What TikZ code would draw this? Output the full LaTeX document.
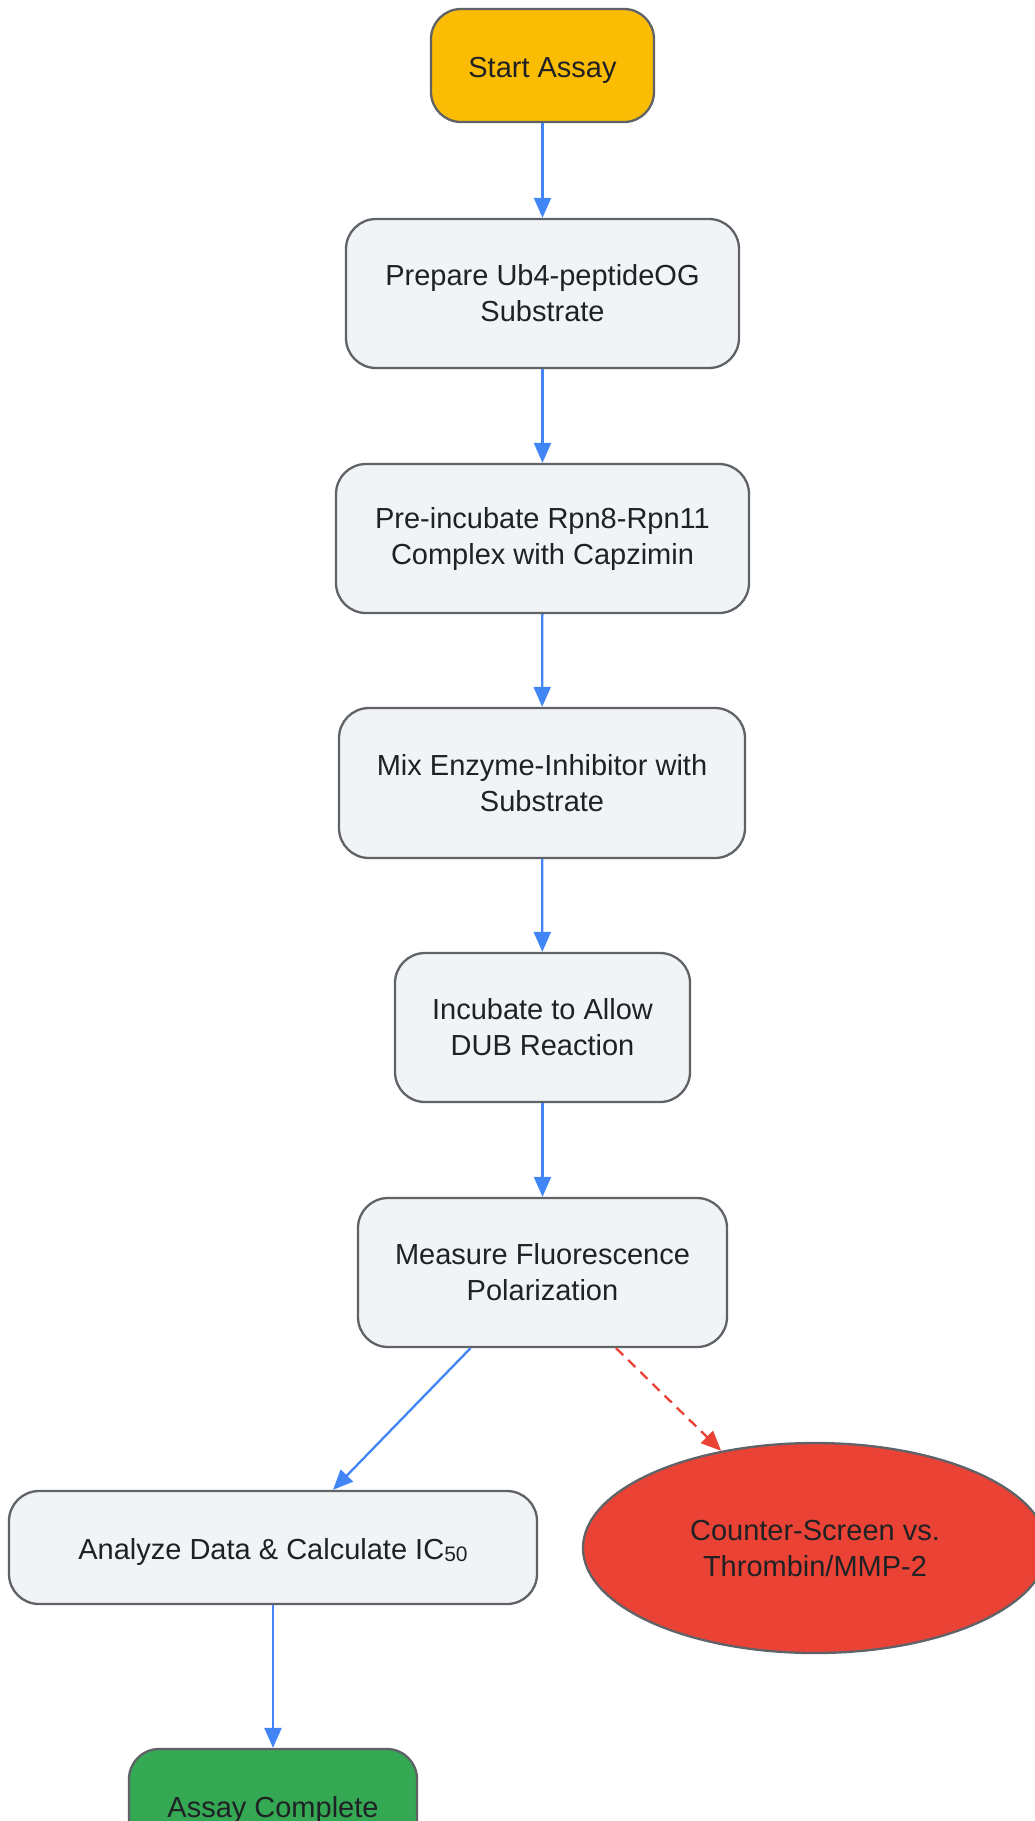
\documentclass[tikz,border=0pt]{standalone}
\usepackage{fontspec}
\setmainfont{Liberation Sans}
\usetikzlibrary{shapes.geometric,arrows.meta,calc}
\definecolor{boxfill}{HTML}{F1F3F4}
\definecolor{boxline}{HTML}{5F6368}
\definecolor{txt}{HTML}{202124}
\definecolor{startc}{HTML}{FBBC04}
\definecolor{endc}{HTML}{34A853}
\definecolor{redc}{HTML}{EA4335}
\definecolor{bluec}{HTML}{4285F4}
\begin{document}
\begin{tikzpicture}[x=1pt,y=-1pt,
  base/.style={draw=boxline,line width=2.3pt,text=txt,align=center,
    font=\fontsize{29}{36}\selectfont,inner sep=0pt},
  stepbox/.style={base,fill=boxfill,rectangle,rounded corners=30pt},
  oneline/.style={text height=24pt,text depth=0pt},
  flow/.style={draw=bluec,line width=2.3pt,-{Triangle[length=20pt,width=17pt]}},
  alt/.style={draw=redc,line width=2.3pt,dash pattern=on 10pt off 7pt,-{Triangle[length=20pt,width=17pt]}}]
\useasboundingbox (0,0) rectangle (1035,1821);
\node[stepbox,oneline,fill=startc,minimum width=223pt,minimum height=113pt] (start) at (542.5,65.5) {Start Assay};
\node[stepbox,minimum width=393pt,minimum height=149pt] (prep) at (542.5,293.5) {Prepare Ub4-peptideOG\\Substrate};
\node[stepbox,minimum width=413pt,minimum height=149pt] (pre) at (542.5,538.5) {Pre-incubate Rpn8-Rpn11\\Complex with Capzimin};
\node[stepbox,minimum width=406pt,minimum height=150pt] (mix) at (542,783) {Mix Enzyme-Inhibitor with\\Substrate};
\node[stepbox,minimum width=295pt,minimum height=149pt] (inc) at (542.5,1027.5) {Incubate to Allow\\DUB Reaction};
\node[stepbox,minimum width=369pt,minimum height=149pt] (meas) at (542.5,1272.5) {Measure Fluorescence\\Polarization};
\node[stepbox,oneline,minimum width=528pt,minimum height=113pt] (ana) at (273,1547.5) {Analyze Data \& Calculate IC{\fontsize{21}{21}\selectfont\raisebox{-2pt}{50}}};
\node[base,fill=redc,ellipse,minimum width=464pt,minimum height=210pt] (counter) at (815,1548) {Counter-Screen vs.\\Thrombin/MMP-2};
\node[stepbox,oneline,fill=endc,minimum width=288pt,minimum height=113pt] (done) at (273,1805.5) {Assay Complete};
\draw[flow] (start) -- (prep);
\draw[flow] (prep) -- (pre);
\draw[flow] (pre) -- (mix);
\draw[flow] (mix) -- (inc);
\draw[flow] (inc) -- (meas);
\draw[flow] ([xshift=-72pt]meas.south) -- ([xshift=60pt]ana.north);
\draw[alt] ([xshift=73.5pt]meas.south) -- (counter.134.7);
\draw[flow] (ana) -- (done);
\end{tikzpicture}
\end{document}
